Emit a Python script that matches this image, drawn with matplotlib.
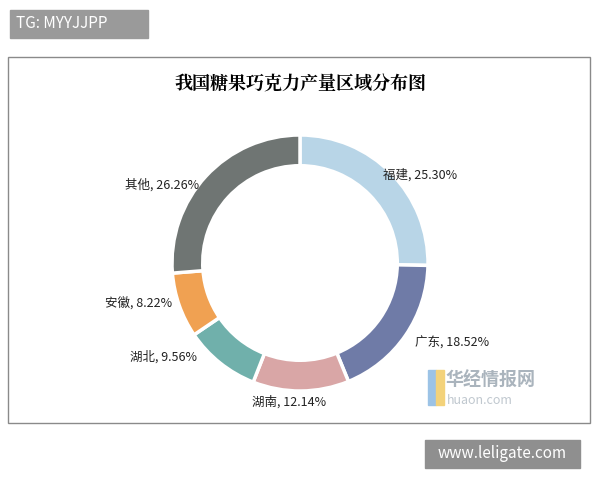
import matplotlib
matplotlib.use("Agg")
import matplotlib.pyplot as plt
from matplotlib.patches import Rectangle

plt.rcParams['font.family'] = ['Noto Sans CJK SC', 'DejaVu Sans']

regions = ["福建", "广东", "湖南", "湖北", "安徽", "其他"]
shares = [25.30, 18.52, 12.14, 9.56, 8.22, 26.26]
colors = ["#B8D5E7", "#6F7BA7", "#D9A6A6", "#70B0AB", "#F0A152", "#6F7573"]
label_px = [(383, 175), (415, 343), (252, 402), (130, 357), (105, 303), (125, 185)]

W, H = 600, 480
fig = plt.figure(figsize=(W/100, H/100), dpi=100)
fig.patch.set_facecolor("white")

def px(x, y):
    return x / W, 1 - y / H

fig.patches.append(Rectangle(px(8, 423), 582/W, 366/H, transform=fig.transFigure,
                             fill=False, edgecolor="#8a8a8a", lw=1))

cx, cy, r = 300, 263, 128
ax = fig.add_axes([(cx - r)/W, 1 - (cy + r)/H, 2*r/W, 2*r/H])
ax.pie(shares, colors=colors, startangle=90, counterclock=False,
       wedgeprops=dict(width=0.24, edgecolor="white", linewidth=2.5))
ax.set_xlim(-1, 1)
ax.set_ylim(-1, 1)
ax.set_aspect("equal")
ax.axis("off")

fig.text(*px(300, 85), "我国糖果巧克力产量区域分布图", ha="center", va="center",
         fontsize=13, fontweight="bold", family=["Noto Serif CJK SC", "Noto Sans CJK SC"])

for name, v, (x, y) in zip(regions, shares, label_px):
    fig.text(*px(x, y), f"{name}, {v:.2f}%", ha="left", va="center", fontsize=9, color="#222222")

fig.text(*px(445, 380), "华经情报网", ha="left", va="center", fontsize=13, color="#aab4bd", fontweight="bold")
fig.text(*px(447, 400), "huaon.com", ha="left", va="center", fontsize=9, color="#c0c8cf")
fig.patches.append(Rectangle(px(428, 405), 8/W, 35/H, transform=fig.transFigure, color="#9cc3e6"))
fig.patches.append(Rectangle(px(436, 405), 8/W, 35/H, transform=fig.transFigure, color="#f3d27a"))

fig.patches.append(Rectangle(px(10, 38), 138/W, 28/H, transform=fig.transFigure, color="#9a9a9a"))
fig.text(*px(16, 24), "TG: MYYJJPP", ha="left", va="center", fontsize=11, color="white")
fig.patches.append(Rectangle(px(425, 468), 155/W, 28/H, transform=fig.transFigure, color="#8f8f8f"))
fig.text(*px(502, 454), "www.leligate.com", ha="center", va="center", fontsize=11, color="white")

fig.savefig("out.png", dpi=100)
